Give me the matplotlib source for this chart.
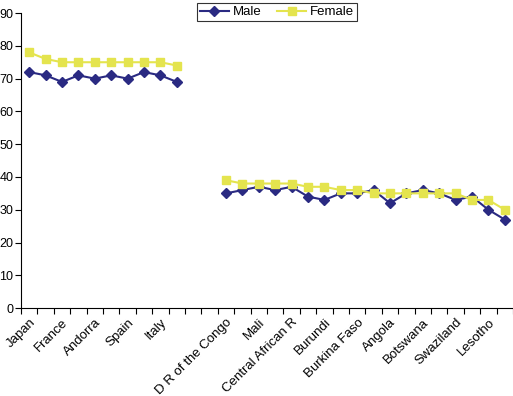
import matplotlib.pyplot as plt
import numpy as np

# categories (empty strings are the unlabeled / gap slots)
countries = ['Japan', '', 'France', '', 'Andorra', '', 'Spain', '', 'Italy', '',
             '', '',
             'D R of the Congo', '', 'Mali', '', 'Central African R', '', 'Burundi', '',
             'Burkina Faso', '', 'Angola', '', 'Botswana', '', 'Swaziland', '', 'Lesotho', '']

nan = np.nan
male = [72, 71, 69, 71, 70, 71, 70, 72, 71, 69,
        nan, nan,
        35, 36, 37, 36, 37, 34, 33, 35, 35, 36, 32, 35, 36, 35, 33, 34, 30, 27]
female = [78, 76, 75, 75, 75, 75, 75, 75, 75, 74,
          nan, nan,
          39, 38, 38, 38, 38, 37, 37, 36, 36, 35, 35, 35, 35, 35, 35, 33, 33, 30]

plt.rcParams['font.family'] = ['Liberation Sans', 'DejaVu Sans']

fig = plt.figure(figsize=(5.13, 3.96), dpi=100)
ax = fig.add_axes([0.041, 0.222, 0.959, 0.745])

x = np.arange(len(countries))
ax.plot(x, male, color='#2a2a82', linewidth=1.5, marker='D', markersize=5,
        label='Male')
ax.plot(x, female, color='#e4e44e', linewidth=1.5, marker='s', markersize=6,
        label='Female')

ax.set_xlim(-0.5, len(countries) - 0.5)
ax.set_ylim(0, 90)
ax.set_yticks(np.arange(0, 91, 10))
ax.tick_params(axis='y', labelsize=9, direction='out', length=4, pad=1.5)

# tick marks between categories, labels on categories
ax.set_xticks(np.arange(-0.5, len(countries), 1), minor=False)
ax.set_xticklabels([])
ax.tick_params(axis='x', which='major', direction='out', length=4)
ax.set_xticks(x, minor=True)
ax.set_xticklabels(countries, minor=True, rotation=45, ha='right',
                   rotation_mode='anchor', fontsize=9.5)
ax.tick_params(axis='x', which='minor', length=0, pad=6)

ax.spines['top'].set_visible(False)
ax.spines['right'].set_visible(False)

leg = ax.legend(loc='upper center', bbox_to_anchor=(0.52, 1.055), ncol=2,
                fontsize=9.5, frameon=True, fancybox=False, edgecolor='black',
                borderpad=0.2, handlelength=2.2, columnspacing=1.2,
                handletextpad=0.3)
leg.get_frame().set_linewidth(0.8)

fig.savefig('out.png', dpi=100)
